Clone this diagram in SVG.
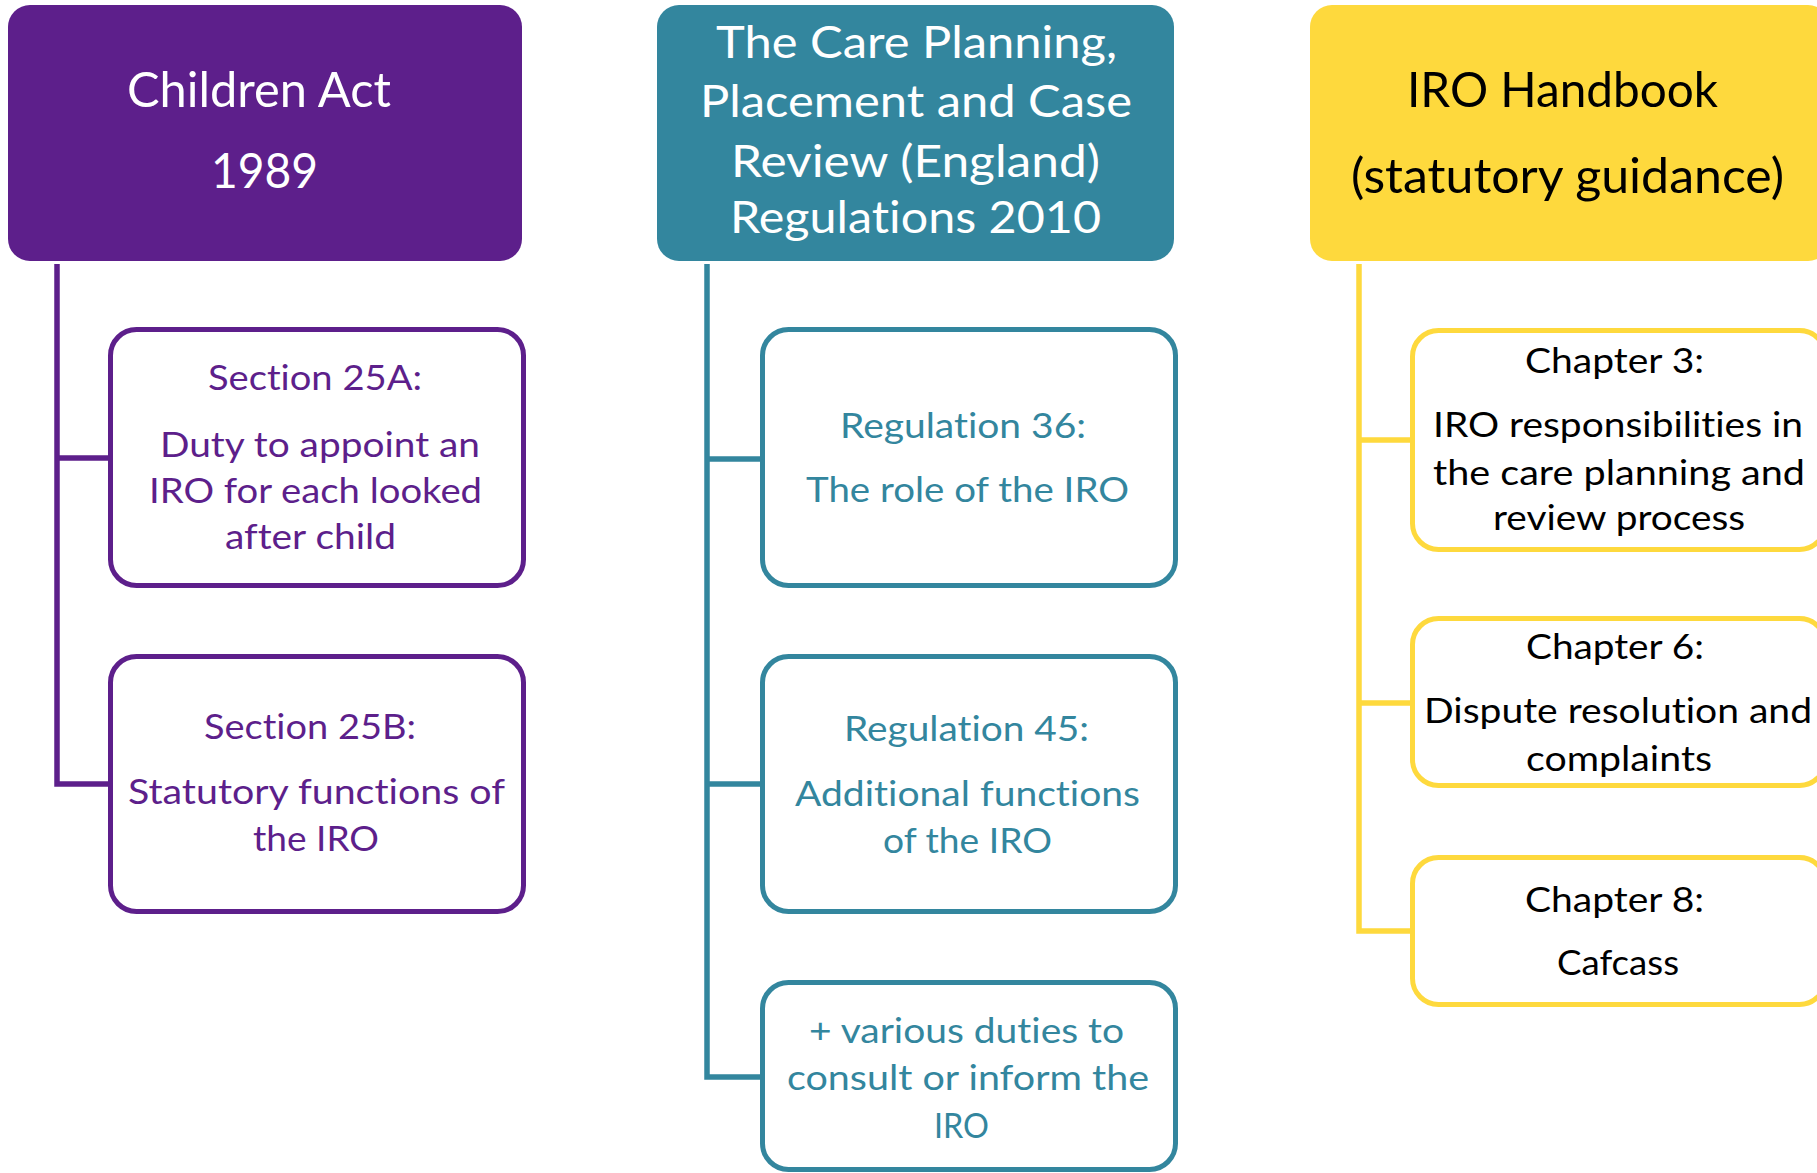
<svg xmlns="http://www.w3.org/2000/svg" width="1817" height="1173" viewBox="0 0 1817 1173">
  <style>
    text { font-family: Lato, "Open Sans", "Liberation Sans", sans-serif; text-anchor: middle; font-variant-ligatures: none; font-feature-settings: "liga" 0, "clig" 0; }
    .hdr { font-size: 49px; }
    .hdr-sm { font-size: 44px; }
    .sub { font-size: 35px; }
    .purple-fill { fill: #5D1F8B; }
    .teal-fill { fill: #33869E; }
    .yellow-fill { fill: #FED93D; }
    .box { fill: #FFFFFF; stroke-width: 5; }
    .purple-box { stroke: #5D1F8B; }
    .teal-box { stroke: #33869E; }
    .yellow-box { stroke: #FED93D; }
    .purple-text { fill: #5D1F8B; }
    .teal-text { fill: #33869E; }
    .dark-text { fill: #000000; }
    .light-text { fill: #FFFFFF; }
    .link { fill: none; stroke-width: 5.5; stroke-linecap: butt; stroke-linejoin: miter; }
  </style>

  <!-- tree connectors -->
  <g id="connectors">
    <path class="link" stroke="#5D1F8B" d="M57 264 V784 H108 M57 458 H108"/>
    <path class="link" stroke="#33869E" d="M707 264 V1077 H760 M707 459 H760 M707 784 H760"/>
    <path class="link" stroke="#FED93D" d="M1359 264 V931 H1410 M1359 440 H1410 M1359 703 H1410"/>
  </g>

  <!-- Children Act column -->
  <g id="children-act">
    <rect class="purple-fill" x="8" y="5" width="514" height="256" rx="22"/>
    <text class="hdr light-text" x="259" y="107" textLength="264" lengthAdjust="spacingAndGlyphs">Children Act</text>
    <text class="hdr light-text" x="264.5" y="188" textLength="107" lengthAdjust="spacingAndGlyphs">1989</text>
  </g>
  <g id="section-25a">
    <rect class="box purple-box" x="110.5" y="329.5" width="413" height="256" rx="26"/>
    <text class="sub purple-text" x="315" y="390" textLength="214" lengthAdjust="spacingAndGlyphs">Section 25A:</text>
    <text class="sub purple-text" x="320" y="457" textLength="320" lengthAdjust="spacingAndGlyphs">Duty to appoint an</text>
    <text class="sub purple-text" x="315.5" y="503" textLength="333" lengthAdjust="spacingAndGlyphs">IRO for each looked</text>
    <text class="sub purple-text" x="310.5" y="549" textLength="171" lengthAdjust="spacingAndGlyphs">after child</text>
  </g>
  <g id="section-25b">
    <rect class="box purple-box" x="110.5" y="656.5" width="413" height="255" rx="26"/>
    <text class="sub purple-text" x="310" y="739" textLength="212" lengthAdjust="spacingAndGlyphs">Section 25B:</text>
    <text class="sub purple-text" x="316.5" y="804" textLength="377" lengthAdjust="spacingAndGlyphs">Statutory functions of</text>
    <text class="sub purple-text" x="316" y="851" textLength="126" lengthAdjust="spacingAndGlyphs">the IRO</text>
  </g>

  <!-- Care Planning Regulations column -->
  <g id="care-planning-regulations">
    <rect class="teal-fill" x="657" y="5" width="517" height="256" rx="22"/>
    <text class="hdr-sm light-text" x="916.5" y="58" textLength="401" lengthAdjust="spacingAndGlyphs">The Care Planning,</text>
    <text class="hdr-sm light-text" x="916" y="117" textLength="432" lengthAdjust="spacingAndGlyphs">Placement and Case</text>
    <text class="hdr-sm light-text" x="915.5" y="177" textLength="369" lengthAdjust="spacingAndGlyphs">Review (England)</text>
    <text class="hdr-sm light-text" x="915.5" y="233" textLength="371" lengthAdjust="spacingAndGlyphs">Regulations 2010</text>
  </g>
  <g id="regulation-36">
    <rect class="box teal-box" x="762.5" y="329.5" width="413" height="256" rx="26"/>
    <text class="sub teal-text" x="963" y="438" textLength="246" lengthAdjust="spacingAndGlyphs">Regulation 36:</text>
    <text class="sub teal-text" x="967.5" y="502" textLength="323" lengthAdjust="spacingAndGlyphs">The role of the IRO</text>
  </g>
  <g id="regulation-45">
    <rect class="box teal-box" x="762.5" y="656.5" width="413" height="255" rx="26"/>
    <text class="sub teal-text" x="966.5" y="741" textLength="245" lengthAdjust="spacingAndGlyphs">Regulation 45:</text>
    <text class="sub teal-text" x="967.5" y="806" textLength="345" lengthAdjust="spacingAndGlyphs">Additional functions</text>
    <text class="sub teal-text" x="967.5" y="853" textLength="169" lengthAdjust="spacingAndGlyphs">of the IRO</text>
  </g>
  <g id="various-duties">
    <rect class="box teal-box" x="762.5" y="982.5" width="413" height="187" rx="26"/>
    <text class="sub teal-text" x="966.5" y="1043" textLength="315" lengthAdjust="spacingAndGlyphs">+ various duties to</text>
    <text class="sub teal-text" x="968" y="1090" textLength="362" lengthAdjust="spacingAndGlyphs">consult or inform the</text>
    <text class="sub teal-text" x="961.5" y="1138" textLength="55" lengthAdjust="spacingAndGlyphs">IRO</text>
  </g>

  <!-- IRO Handbook column -->
  <g id="iro-handbook">
    <rect class="yellow-fill" x="1310" y="5" width="520" height="256" rx="22"/>
    <text class="hdr dark-text" x="1562.5" y="107" textLength="311" lengthAdjust="spacingAndGlyphs">IRO Handbook</text>
    <text class="hdr dark-text" x="1567.5" y="193" textLength="433" lengthAdjust="spacingAndGlyphs">(statutory guidance)</text>
  </g>
  <g id="chapter-3">
    <rect class="box yellow-box" x="1412.5" y="330.5" width="413" height="219" rx="26"/>
    <text class="sub dark-text" x="1614.5" y="373" textLength="179" lengthAdjust="spacingAndGlyphs">Chapter 3:</text>
    <text class="sub dark-text" x="1618" y="437" textLength="370" lengthAdjust="spacingAndGlyphs">IRO responsibilities in</text>
    <text class="sub dark-text" x="1619" y="485" textLength="372" lengthAdjust="spacingAndGlyphs">the care planning and</text>
    <text class="sub dark-text" x="1619" y="530" textLength="252" lengthAdjust="spacingAndGlyphs">review process</text>
  </g>
  <g id="chapter-6">
    <rect class="box yellow-box" x="1412.5" y="618.5" width="413" height="167" rx="26"/>
    <text class="sub dark-text" x="1615" y="659" textLength="178" lengthAdjust="spacingAndGlyphs">Chapter 6:</text>
    <text class="sub dark-text" x="1618" y="723" textLength="388" lengthAdjust="spacingAndGlyphs">Dispute resolution and</text>
    <text class="sub dark-text" x="1619" y="771" textLength="186" lengthAdjust="spacingAndGlyphs">complaints</text>
  </g>
  <g id="chapter-8">
    <rect class="box yellow-box" x="1412.5" y="857.5" width="413" height="147" rx="26"/>
    <text class="sub dark-text" x="1614.5" y="912" textLength="179" lengthAdjust="spacingAndGlyphs">Chapter 8:</text>
    <text class="sub dark-text" x="1618" y="975" textLength="122" lengthAdjust="spacingAndGlyphs">Cafcass</text>
  </g>
</svg>
